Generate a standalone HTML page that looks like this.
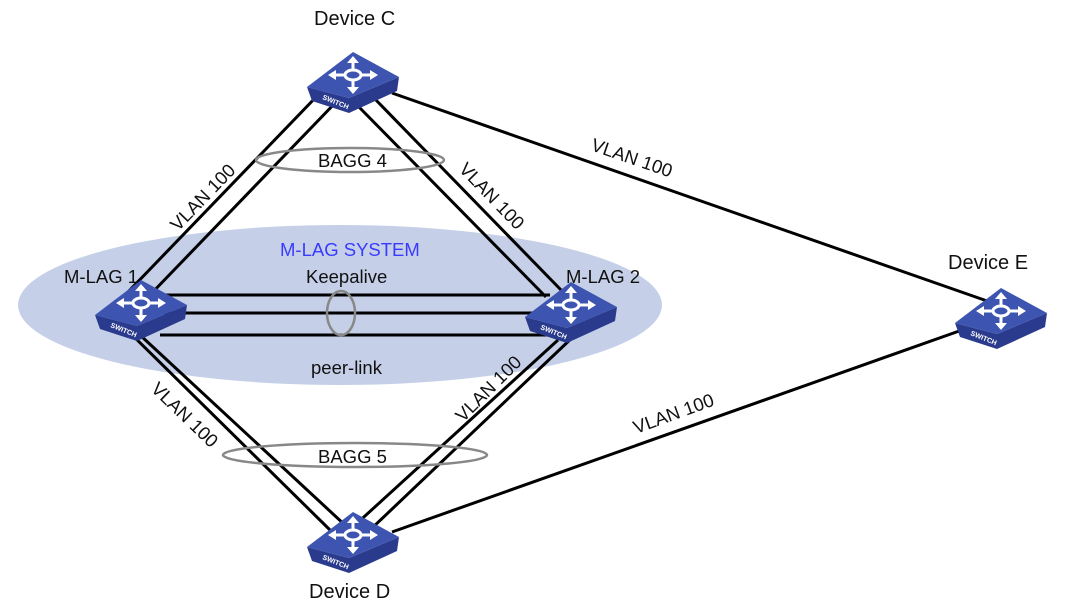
<!DOCTYPE html>
<html><head><style>body{margin:0;background:#fff}svg{display:block}text{font-family:"Liberation Sans",Arial,sans-serif;font-size:18.5px;fill:#111}.dv{font-size:20px}</style></head>
<body>
<svg width="1088" height="613" viewBox="0 0 1088 613">
<defs>
<g id="sw">
<polygon points="-45,5 -40,19 -3,31 45,9 47,-5 -3,16" fill="#2a3a8c"/>
<polygon points="1,-30 47,-5 -3,16 -45,5" fill="#3d54b0"/>
<g stroke="#fff" stroke-width="3" fill="none">
<line x1="-20" y1="-7" x2="22" y2="-7"/><line x1="1" y1="-22" x2="1" y2="8"/>
<ellipse cx="1" cy="-7" rx="8" ry="5" fill="#3d54b0"/>
</g>
<g fill="#fff"><polygon points="-24,-7 -16,-12 -16,-2"/><polygon points="26,-7 18,-12 18,-2"/><polygon points="1,-26 -5,-19 7,-19"/><polygon points="1,12 -5,5 7,5"/></g>
<text x="-30" y="17" transform="rotate(22 -30 17)" style="font-size:7px;fill:#fff;font-weight:bold">SWITCH</text>
</g>
</defs>
<ellipse cx="340" cy="305" rx="322" ry="80" fill="#c5d0e8"/>
<g stroke="#000" stroke-width="3">
<line x1="318" y1="95" x2="128" y2="292"/><line x1="338" y1="100" x2="148" y2="297"/>
<line x1="356" y1="104" x2="546" y2="297"/><line x1="374" y1="98" x2="562" y2="291"/>
<line x1="122" y1="325" x2="330" y2="530"/><line x1="140" y1="335" x2="346" y2="526"/>
<line x1="575" y1="335" x2="370" y2="530"/><line x1="558" y1="340" x2="354" y2="526"/>
<line x1="160" y1="295" x2="550" y2="295"/><line x1="160" y1="313" x2="550" y2="313"/><line x1="160" y1="335" x2="550" y2="335"/>
<line x1="392" y1="93" x2="990" y2="302"/><line x1="392" y1="532" x2="962" y2="330"/>
</g>
<g fill="none" stroke="#888" stroke-width="2.5">
<ellipse cx="350" cy="160" rx="94" ry="12"/>
<ellipse cx="355" cy="455" rx="132" ry="12"/>
<ellipse cx="341" cy="313" rx="14" ry="22"/>
</g>
<use href="#sw" x="352" y="82"/>
<use href="#sw" x="140" y="310"/>
<use href="#sw" x="570" y="312"/>
<use href="#sw" x="1000" y="318"/>
<use href="#sw" x="352" y="542"/>
<text class="dv" x="314" y="25">Device C</text>
<text class="dv" x="309" y="598">Device D</text>
<text class="dv" x="948" y="269">Device E</text>
<text x="64" y="283">M-LAG 1</text>
<text x="566" y="283">M-LAG 2</text>
<text x="280" y="256" style="fill:#3a3aff">M-LAG SYSTEM</text>
<text x="306" y="283">Keepalive</text>
<text x="311" y="374">peer-link</text>
<text x="318" y="167">BAGG 4</text>
<text x="318" y="463">BAGG 5</text>
<text transform="translate(178,232) rotate(-46)">VLAN 100</text>
<text transform="translate(458,170) rotate(46)">VLAN 100</text>
<text transform="translate(150,390) rotate(44)">VLAN 100</text>
<text transform="translate(463,423) rotate(-45)">VLAN 100</text>
<text transform="translate(590,150) rotate(19)">VLAN 100</text>
<text transform="translate(636,434) rotate(-20)">VLAN 100</text>
</svg>
</body></html>
